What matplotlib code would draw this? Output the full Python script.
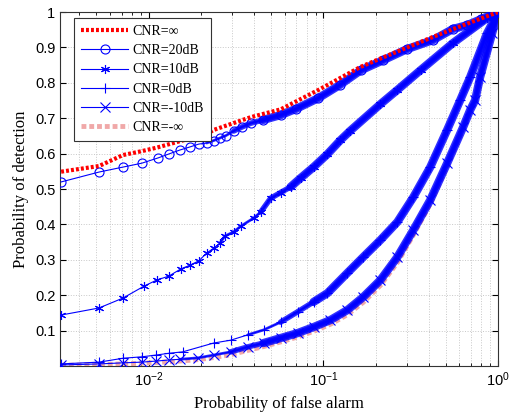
import numpy as np
import matplotlib
matplotlib.use("Agg")
import matplotlib.pyplot as plt

# ---- data (Pfa, Pd) ----
pfa_inf = [0.00314, 0.00518, 0.0071, 0.0091, 0.0111, 0.0150, 0.0214, 0.0235, 0.0383,
           0.0568, 0.0936, 0.163, 0.22, 0.425, 0.665, 1.0]
pd_inf = [0.549, 0.565, 0.596, 0.607, 0.617, 0.635, 0.655, 0.667, 0.703,
          0.725, 0.78, 0.845, 0.872, 0.93, 0.967, 1.0]

pfa_20 = [0.00314, 0.00518, 0.0071, 0.0091, 0.0113, 0.0130, 0.0150, 0.0172, 0.0193,
          0.0214, 0.0235, 0.0255, 0.0276, 0.0306, 0.034, 0.0383, 0.045, 0.0568, 0.07,
          0.0936, 0.125, 0.163, 0.22, 0.3, 0.425, 0.55, 0.665, 0.8, 1.0]
pd_20 = [0.520, 0.548, 0.562, 0.573, 0.588, 0.599, 0.610, 0.619, 0.627,
         0.630, 0.637, 0.644, 0.651, 0.664, 0.675, 0.686, 0.695, 0.709, 0.727,
         0.757, 0.795, 0.835, 0.864, 0.895, 0.921, 0.952, 0.963, 0.98, 1.0]

pfa_10 = [0.00314, 0.00518, 0.0071, 0.0094, 0.0111, 0.0130, 0.0152, 0.0172, 0.0193,
          0.0214, 0.0235, 0.0255, 0.0272, 0.0306, 0.0336, 0.0398, 0.0437, 0.0498,
          0.0568, 0.0648, 0.0739, 0.0877, 0.105, 0.125, 0.1426, 0.212, 0.265, 0.36,
          0.55, 0.865, 1.0]
pd_10 = [0.144, 0.164, 0.192, 0.226, 0.243, 0.254, 0.274, 0.285, 0.297,
         0.319, 0.333, 0.347, 0.367, 0.379, 0.395, 0.418, 0.435, 0.474,
         0.49, 0.506, 0.531, 0.562, 0.598, 0.638, 0.665, 0.74, 0.78, 0.836,
         0.912, 0.983, 1.0]

pfa_0 = [0.00314, 0.00518, 0.0071, 0.0091, 0.0110, 0.0130, 0.0156, 0.0235, 0.0294,
         0.0368, 0.0454, 0.0568, 0.071, 0.0877, 0.1054, 0.137, 0.169, 0.212, 0.265,
         0.327, 0.409, 0.511, 0.607, 0.692, 0.865, 1.0]
pd_0 = [0.006, 0.011, 0.022, 0.026, 0.031, 0.036, 0.040, 0.065, 0.073,
        0.088, 0.102, 0.124, 0.153, 0.181, 0.206, 0.263, 0.308, 0.356, 0.407,
        0.477, 0.562, 0.667, 0.751, 0.816, 0.94, 1.0]

pfa_m10 = [0.00314, 0.00518, 0.0071, 0.0091, 0.0110, 0.0130, 0.0150, 0.0191, 0.0235,
           0.0294, 0.0368, 0.0454, 0.0568, 0.071, 0.0877, 0.1096, 0.137, 0.169, 0.212,
           0.265, 0.327, 0.409, 0.511, 0.631, 0.692, 0.739, 0.789, 0.925, 1.0]
pd_m10 = [0.003, 0.006, 0.009, 0.011, 0.014, 0.017, 0.019, 0.023, 0.031,
          0.040, 0.054, 0.065, 0.079, 0.093, 0.110, 0.130, 0.158, 0.195, 0.243,
          0.308, 0.384, 0.469, 0.573, 0.675, 0.723, 0.751, 0.816, 0.94, 1.0]

pd_minf = [0.002, 0.004, 0.006, 0.008, 0.010, 0.012, 0.014, 0.018, 0.024,
           0.032, 0.044, 0.055, 0.068, 0.082, 0.098, 0.118, 0.145, 0.180, 0.228,
           0.292, 0.370, 0.458, 0.565, 0.670, 0.720, 0.750, 0.815, 0.94, 1.0]

labels = ["CNR=\u221e", "CNR=20dB", "CNR=10dB", "CNR=0dB", "CNR=-10dB", "CNR=-\u221e"]

plt.rcParams["font.family"] = ["Liberation Sans", "DejaVu Sans"]
plt.rcParams["mathtext.fontset"] = "custom"
plt.rcParams["mathtext.rm"] = "Liberation Sans"
plt.rcParams["mathtext.it"] = "Liberation Sans"
plt.rcParams["mathtext.default"] = "regular"

fig = plt.figure(figsize=(5.14, 4.15), dpi=100)
ax = fig.add_axes([0.117, 0.118, 0.852, 0.853])

blue = "#0000ff"
# pink -inf curve first (sits underneath)
h_minf, = ax.plot(pfa_m10, pd_minf, color="#f0a8a8", lw=3.5, ls=(0, (1, 0.6)), zorder=2)

# marker, then where the markers start to overlap into a band (x where band grows)
curves = [(pfa_20, pd_20, "o", [0.02, 0.03, 0.045]),
          (pfa_10, pd_10, (6, 2, 0), [0.025, 0.04, 0.06]),
          (pfa_0, pd_0, "+", [0.03, 0.05, 0.08]),
          (pfa_m10, pd_m10, "x", [0.015, 0.025, 0.04])]
band_lw = [2.0, 4.0, 6.0]
handles = []
for xs, ys, mk, starts in curves:
    xs = np.array(xs)
    ys = np.array(ys)
    h, = ax.plot(xs, ys, color=blue, lw=0.8, marker=mk, ms=6.5, mfc="none",
                 mec=blue, mew=0.8, zorder=3)
    handles.append(h)
    # dense marker band in the reference
    for x0, lw in zip(starts, band_lw):
        m = xs >= x0
        ax.plot(xs[m], ys[m], color=blue, lw=lw, alpha=0.8,
                solid_capstyle="round", solid_joinstyle="round", zorder=3)

h_inf, = ax.plot(pfa_inf, pd_inf, color="red", lw=3, ls=(0, (0.7, 0.5)), zorder=4)

ax.set_xscale("log")
ax.set_xlim(0.0031, 1.0)
ax.set_ylim(0.0, 1.0)
ax.set_yticks([0.1, 0.2, 0.3, 0.4, 0.5, 0.6, 0.7, 0.8, 0.9, 1.0])
ax.set_yticklabels(["0.1", "0.2", "0.3", "0.4", "0.5", "0.6", "0.7", "0.8", "0.9", "1"])
ax.set_xticks([0.01, 0.1, 1.0])
ax.set_xticklabels([r"$10^{-2}$", r"$10^{-1}$", r"$10^{0}$"])

ax.grid(True, which="major", color="#c8c8c8", ls=":", lw=0.7)
ax.grid(True, which="minor", axis="x", color="#c8c8c8", ls=":", lw=0.7)
ax.tick_params(which="both", direction="in", top=True, right=True, labelsize=10.5)
ax.tick_params(which="major", length=4)
ax.tick_params(which="minor", length=2)
for sp in ax.spines.values():
    sp.set_linewidth(0.8)
    sp.set_color("#333333")

ax.set_xlabel("Probability of false alarm", family="Liberation Serif", fontsize=12, labelpad=5)
ax.set_ylabel("Probability of detection", family="Liberation Serif", fontsize=12, labelpad=4)

leg = ax.legend([h_inf] + handles + [h_minf], labels, loc="upper left",
                bbox_to_anchor=(0.032, 0.983), borderaxespad=0,
                prop={"family": ["Liberation Serif", "DejaVu Sans"], "size": 10},
                handlelength=3.4, labelspacing=0.45, handletextpad=0.3,
                fancybox=False, edgecolor="#333333", framealpha=1, borderpad=0.5)
leg.get_frame().set_linewidth(0.8)

fig.savefig("out.png", dpi=100)
